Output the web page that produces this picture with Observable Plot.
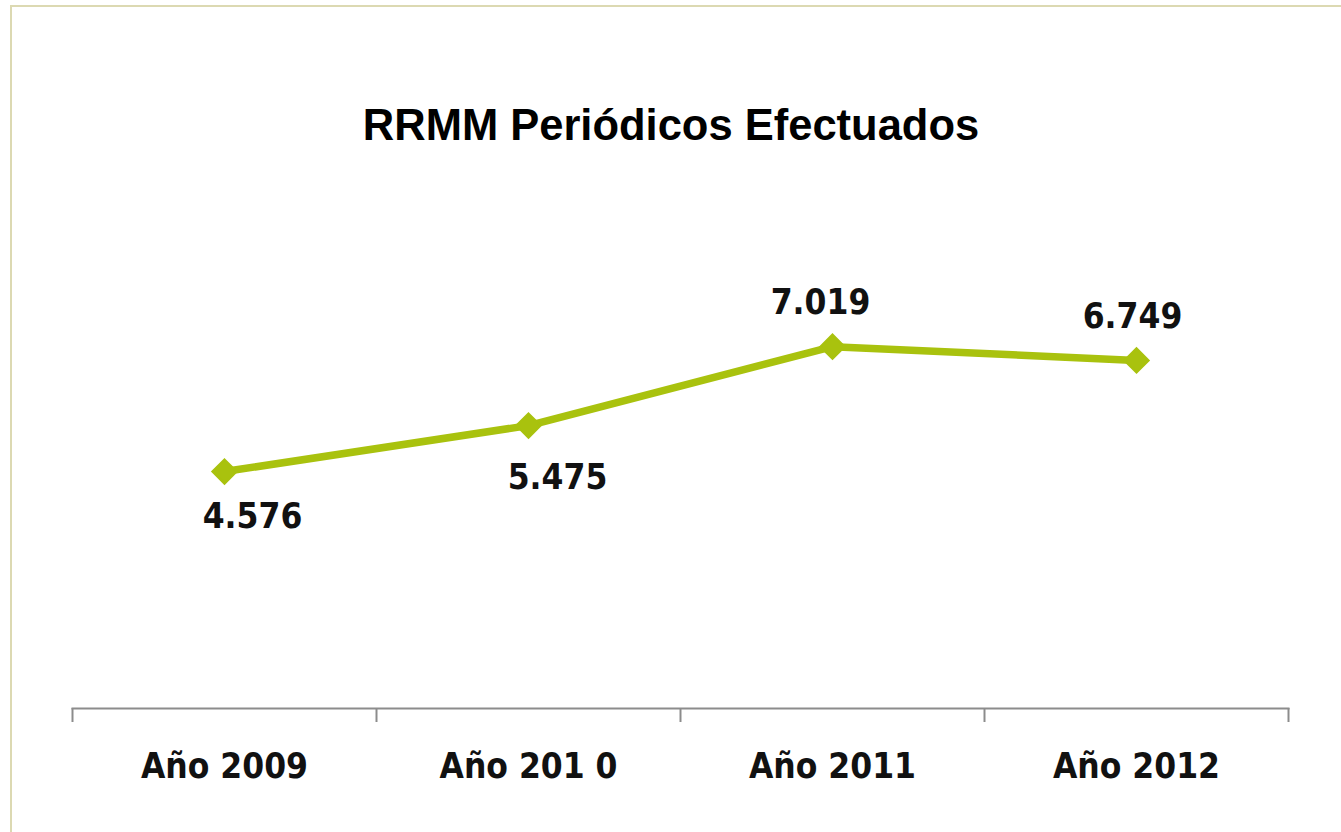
<!DOCTYPE html>
<html>
<head>
<meta charset="utf-8">
<script src="https://cdn.jsdelivr.net/npm/d3@7"></script>
<script src="https://cdn.jsdelivr.net/npm/@observablehq/plot@0.6"></script>
<style>
  html, body { margin: 0; padding: 0; background: #fff; overflow: hidden; }
  #wrap { position: relative; width: 1341px; height: 832px; }
  #border { position: absolute; left: 10px; top: 5px; width: 1400px; height: 900px; border: 2px solid #dcd9b2; box-sizing: border-box; }
  #title { position: absolute; left: 0; top: 104px; width: 1342px; text-align: center; font-family: "Liberation Sans", Arial, sans-serif; font-weight: bold; font-size: 43.5px; line-height: 42px; color: #000; }
  #chart { position: absolute; left: 0; top: 0; }
  #chart svg { font-stretch: condensed; }
</style>
</head>
<body>
<div id="wrap">
  <div id="border"></div>
  <div id="chart"></div>
  <div id="title">RRMM Periódicos Efectuados</div>
</div>
<script>
const categories = ["Año 2009", "Año 201 0", "Año 2011", "Año 2012"];
const values = [4.576, 5.475, 7.019, 6.749];
const valueLabels = ["4.576", "5.475", "7.019", "6.749"];

const data = categories.map((c, i) => ({category: c, pos: i + 0.5, value: values[i], label: valueLabels[i]}));

const lineColor = "#a9c20e";
// label offsets (style only): [dx, dy] per point, as placed in the original
const labelOffsets = [[28, 45], [29, 52], [-12, -44], [-4, -44]];

const plot = Plot.plot({
  width: 1341,
  height: 832,
  marginLeft: 72,
  marginRight: 53,
  marginTop: 296,
  marginBottom: 124,
  style: {fontFamily: "'DejaVu Sans Condensed', 'DejaVu Sans', sans-serif", fontSize: "35px", fontWeight: "bold", color: "#111", background: "transparent"},
  x: {type: "linear", domain: [0, categories.length]},
  y: {domain: [0, 8], range: [705, 296]},
  marks: [
    Plot.frame({anchor: "bottom", stroke: "#8c8c8c", strokeWidth: 2}),
    Plot.axisX(d3.range(categories.length + 1), {tickSize: 14, tickFormat: () => "", stroke: "#8c8c8c", strokeWidth: 2, label: null}),
    Plot.axisX(categories.map((c, i) => i + 0.5), {tickSize: 0, tickPadding: 45, tickFormat: v => categories[Math.floor(v)], fill: "#111", label: null}),
    Plot.axisY({ticks: [], label: null, tickSize: 0}),
    Plot.line(data, {x: "pos", y: "value", stroke: lineColor, strokeWidth: 7.5, strokeLinejoin: "round"}),
    Plot.dot(data, {x: "pos", y: "value", symbol: "diamond2", r: 11, fill: lineColor, stroke: lineColor, strokeWidth: 2}),
    ...data.map((d, i) => Plot.text([d], {x: "pos", y: "value", text: "label", dx: labelOffsets[i][0], dy: labelOffsets[i][1], fill: "#111"}))
  ]
});
document.getElementById("chart").appendChild(plot);
</script>
</body>
</html>
